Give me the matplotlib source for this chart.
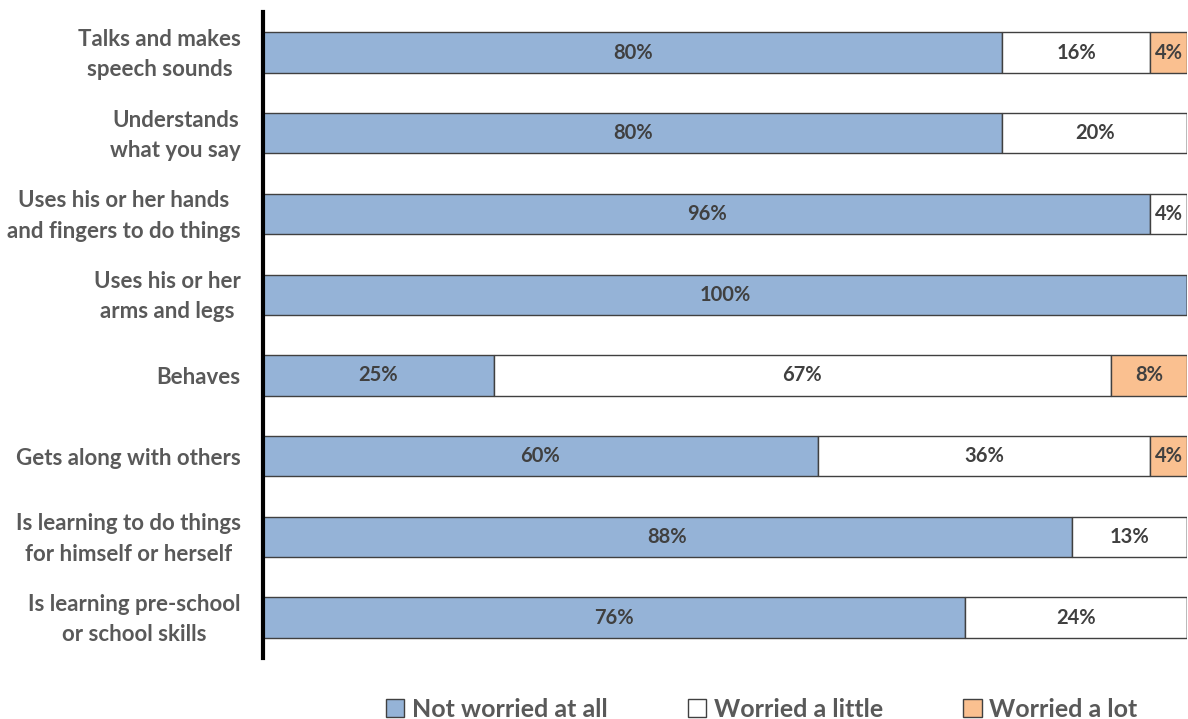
import matplotlib.pyplot as plt
import matplotlib.transforms as mtransforms
import numpy as np

categories = [
    "Talks and makes\nspeech sounds",
    "Understands\nwhat you say",
    "Uses his or her hands\nand fingers to do things",
    "Uses his or her\narms and legs",
    "Behaves",
    "Gets along with others",
    "Is learning to do things\nfor himself or herself",
    "Is learning pre-school\nor school skills",
]
not_worried = [80, 80, 96, 100, 25, 60, 87.5, 76]
worried_little = [16, 20, 4, 0, 66.7, 36, 12.5, 24]
worried_lot = [4, 0, 0, 0, 8.3, 4, 0, 0]

not_worried_labels = ["80%", "80%", "96%", "100%", "25%", "60%", "88%", "76%"]
little_labels = ["16%", "20%", "4%", "", "67%", "36%", "13%", "24%"]
lot_labels = ["4%", "", "", "", "8%", "4%", "", ""]

series = ["Not worried at all", "Worried a little", "Worried a lot"]
colors = ["#95B3D7", "#FFFFFF", "#FAC090"]

plt.rcParams['font.family'] = ['Lato', 'DejaVu Sans']
text_col = "#595959"

fig = plt.figure(figsize=(11.88, 7.19), dpi=100)
ax = fig.add_axes([0.2214, 0.085, 0.778, 0.898])

y = np.arange(len(categories))
left = np.zeros(len(categories))
vals = [not_worried, worried_little, worried_lot]
labs = [not_worried_labels, little_labels, lot_labels]
for name, v, lab, c in zip(series, vals, labs, colors):
    v = np.array(v, dtype=float)
    bars = ax.barh(y, v, left=left, height=0.5, color=c, edgecolor="#404040",
                   linewidth=1, label=name)
    for b, val, t in zip(bars, v, lab):
        if val > 0 and t:
            ax.text(b.get_x() + b.get_width() / 2, b.get_y() + b.get_height() / 2, t,
                    ha="center", va="center", fontsize=14.5, fontweight="bold",
                    color="#404040")
    left += v

ax.set_xlim(0, 100)
ax.set_ylim(len(categories) - 0.5, -0.5)
ax.set_yticks([])
ax.set_xticks([])

# category labels: block right-aligned, lines centred
blend = mtransforms.blended_transform_factory(ax.transAxes, ax.transData)
tr = blend + mtransforms.ScaledTranslation(-16 / 72, -1.5 / 72, fig.dpi_scale_trans)
for yi, cat in zip(y, categories):
    ax.text(0, yi, cat, transform=tr, ha="right", va="center",
            multialignment="center", fontsize=16, fontweight="bold",
            color=text_col, linespacing=1.55)

for s in ["top", "right", "bottom"]:
    ax.spines[s].set_visible(False)
ax.spines["left"].set_linewidth(3)
ax.spines["left"].set_color("black")

leg = fig.legend(loc="lower center", bbox_to_anchor=(0.641, -0.034), ncol=3,
                 frameon=False, fontsize=18, handlelength=0.75, handleheight=0.75,
                 handletextpad=0.3, columnspacing=3.2)
for t in leg.get_texts():
    t.set_color(text_col)
    t.set_fontweight("bold")

fig.savefig("out.png", dpi=100)
